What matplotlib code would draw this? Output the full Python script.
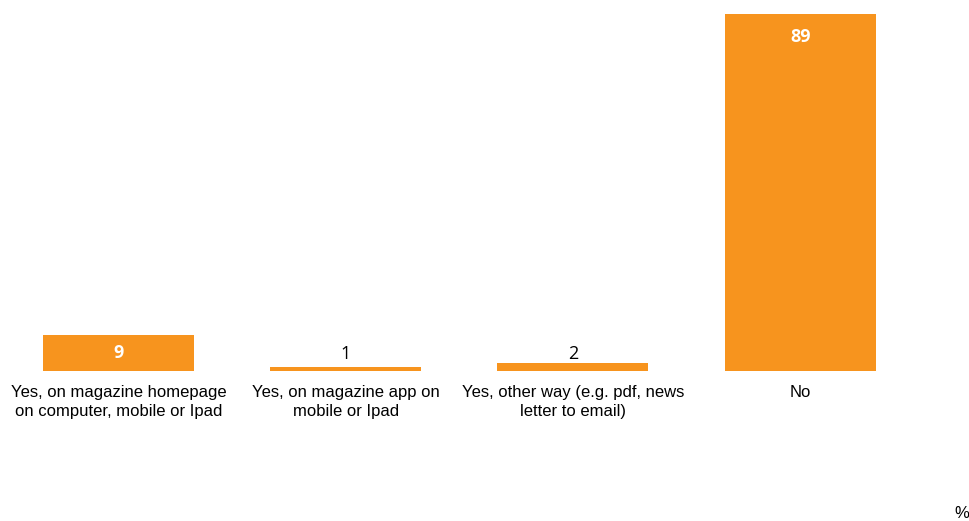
import matplotlib.pyplot as plt

categories = ['Yes, on magazine homepage\non computer, mobile or Ipad',
              'Yes, on magazine app on\nmobile or Ipad',
              'Yes, other way (e.g. pdf, news\nletter to email)',
              'No']
values = [9, 1, 2, 89]

orange = '#F7941E'

fig = plt.figure(figsize=(9.7, 5.21), dpi=100)
ax = fig.add_axes([0.005, 0.288, 0.937, 0.6923])

x = range(len(values))
ax.bar(x, values, width=0.665, color=orange)
ax.set_xlim(-0.5, 3.5)
ax.set_ylim(0, 90)

# value labels: white inside the big bars, black above the thin ones
for i, v in enumerate(values):
    if v >= 5:
        ax.text(i, v - 5.6 if v > 20 else v / 2, str(v), ha='center', va='center',
                color='white', fontsize=13, fontweight='bold', family='Open Sans')
    else:
        ax.text(i, 3.0, str(v), ha='center', va='baseline',
                color='black', fontsize=13, family='Open Sans')

ax.set_xticks(list(x))
ax.set_xticklabels(categories, fontsize=12, family='Liberation Sans', linespacing=1.35)
ax.tick_params(axis='x', length=0, pad=10)
ax.set_yticks([])
for s in ax.spines.values():
    s.set_visible(False)

fig.text(0.999, 0.0, '%', ha='right', va='bottom', fontsize=12, family='Liberation Sans')

fig.savefig('out.png', dpi=100)
